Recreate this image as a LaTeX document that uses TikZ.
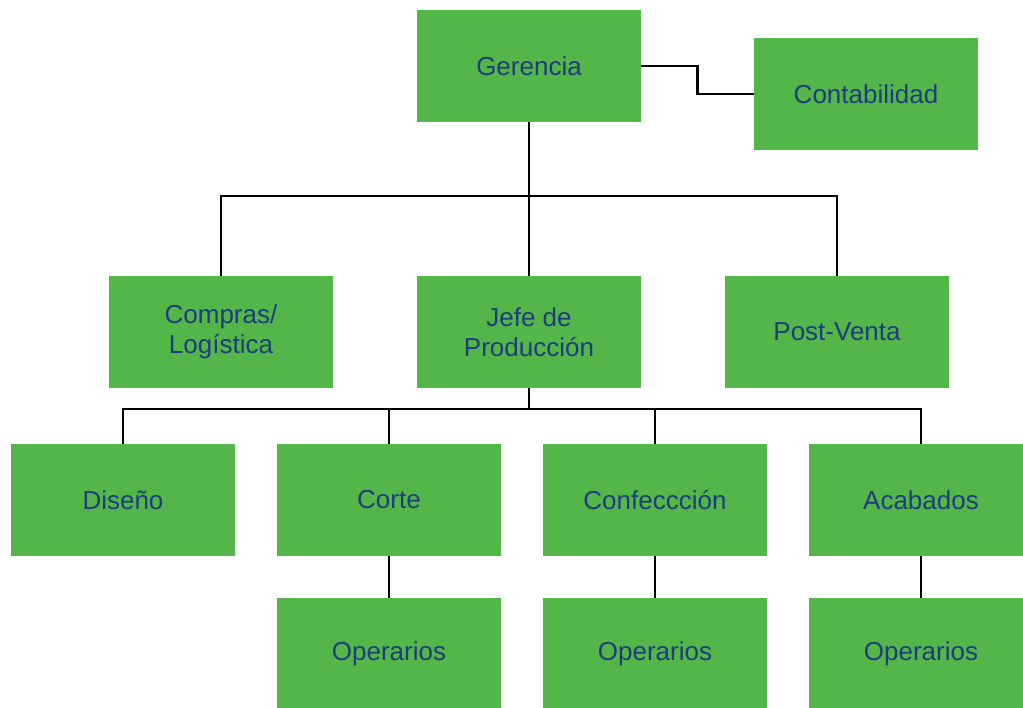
\documentclass[tikz,border=0pt]{standalone}
\usepackage{fontspec}
\setmainfont{Liberation Sans}
\usetikzlibrary{calc}
\definecolor{boxgreen}{HTML}{52B748}
\definecolor{labelblue}{HTML}{1F3C7C}
\tikzset{
  unit/.style={rectangle, fill=boxgreen, draw=none, minimum width=224pt,
    minimum height=112pt, inner sep=0pt, align=center, text=labelblue,
    font=\fontsize{26}{30}\selectfont},
  link/.style={draw=black, line width=2.2pt}
}
\begin{document}
\begin{tikzpicture}[x=1pt, y=-1pt]
\clip (0,0) rectangle (1023,708);
\fill[white] (0,0) rectangle (1023,708);
% top level
\node[unit] (ger)  at (529,66)  {Gerencia};
\node[unit] (cont) at (866,94)  {Contabilidad};
% second level
\node[unit] (comp) at (221,332) {Compras/\\Logística};
\node[unit] (jefe) at (529,332) {Jefe de\\Producción};
\node[unit] (post) at (837,332) {Post-Venta};
% production areas
\node[unit] (dis)  at (123,500) {Diseño};
\node[unit] (cor)  at (389,500) {Corte};
\node[unit] (conf) at (655,500) {Confeccción};
\node[unit] (acab) at (921,500) {Acabados};
% operators
\node[unit] (op1) at (389,654) {Operarios};
\node[unit] (op2) at (655,654) {Operarios};
\node[unit] (op3) at (921,654) {Operarios};
% junctions
\coordinate (bus1) at (529,196);
\coordinate (bus2) at (529,409);
\coordinate (jog) at ($(ger.east)!.5!(ger.east -| cont.west)$);
% connectors
\draw[link] (ger.east) -- (jog) |- (cont.west);
\draw[link] (ger.south) -- (bus1) -- (jefe.north);
\draw[link] (comp.north) |- (bus1) -| (post.north);
\draw[link] (jefe.south) -- (bus2);
\draw[link] (dis.north) |- (bus2) -| (acab.north);
\draw[link] (cor.north) -- (cor.north |- bus2);
\draw[link] (conf.north) -- (conf.north |- bus2);
\draw[link] (cor.south) -- (op1.north);
\draw[link] (conf.south) -- (op2.north);
\draw[link] (acab.south) -- (op3.north);
\end{tikzpicture}
\end{document}
